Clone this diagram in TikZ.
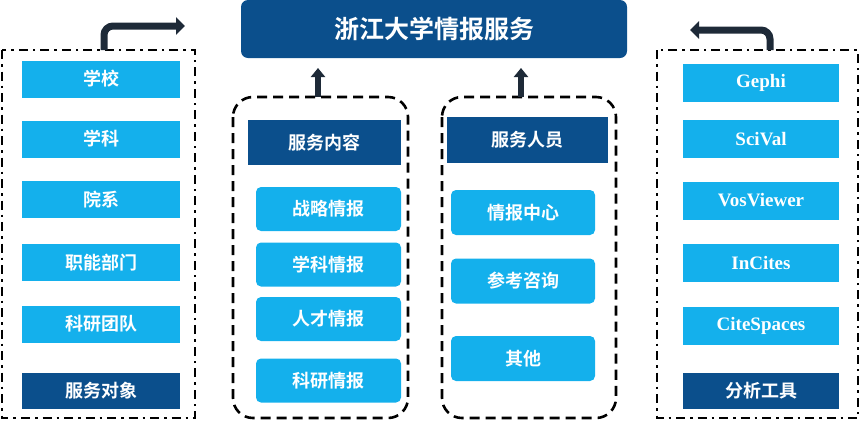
\documentclass[tikz,border=0pt]{standalone}
\usepackage{fontspec}
\setmainfont{Liberation Serif}
\newfontfamily\cjk{Noto Sans CJK SC}[BoldFont={Noto Sans CJK SC Bold}]
\usetikzlibrary{arrows.meta}
\definecolor{dk}{HTML}{0B4F8C}
\definecolor{lt}{HTML}{14B0EC}
\definecolor{ar}{HTML}{1E2A38}
\begin{document}
\begin{tikzpicture}[x=1pt,y=-1pt,
 box/.style={fill=lt,text=white,font=\cjk\bfseries\fontsize{18}{20}\selectfont,inner sep=0},
 hd/.style={fill=dk,text=white,font=\cjk\bfseries\fontsize{18}{20}\selectfont,inner sep=0},
 en/.style={fill=lt,text=white,font=\bfseries\fontsize{19}{21}\selectfont,inner sep=0},
 fr/.style={line width=2.6pt,dash pattern=on 9pt off 5pt on 2.5pt off 5pt},
 dfr/.style={line width=2.6pt,dash pattern=on 10pt off 6pt,rounded corners=20pt},
 arr/.style={line width=7pt,ar,-{Triangle[length=9pt,width=17pt]}}]
\useasboundingbox (0,0) rectangle (861,424);
\node[fill=dk,rounded corners=7pt,text=white,font=\cjk\bfseries\fontsize{25}{28}\selectfont,minimum width=386pt,minimum height=58pt] (t) at (434,29) {浙江大学情报服务};
% left
\draw[fr] (2,50) rectangle (195,418);
\foreach \n/\y/\s in {a1/79/学校,a2/139/学科,a3/199.5/院系,a4/262.5/职能部门,a5/324/科研团队}
  \node[box,minimum width=158pt,minimum height=37pt] (\n) at (101,\y) {\s};
\node[hd,minimum width=158pt,minimum height=36pt] (a6) at (101,391) {服务对象};
\coordinate (la) at (104,50);
\coordinate (lb) at (185,26);
\draw[arr,rounded corners=9pt] (la) -- (104,26) -- (lb);
% middle left
\draw[dfr] (233,97) rectangle (408,418);
\node[hd,minimum width=153pt,minimum height=45pt] (b0) at (324.5,142.5) {服务内容};
\foreach \n/\y/\s in {b1/209/战略情报,b2/264.5/学科情报,b3/319/人才情报,b4/380.5/科研情报}
  \node[box,rounded corners=5pt,minimum width=145pt,minimum height=44pt] (\n) at (328.5,\y) {\s};
\coordinate (ba) at (318,97);
\coordinate (bb) at (318,68);
\draw[arr,line width=6pt,-{Triangle[length=9pt,width=14pt]}] (ba) -- (bb);
% middle right
\draw[dfr] (442,97) rectangle (616,418);
\node[hd,minimum width=161pt,minimum height=46pt] (c0) at (527.5,140) {服务人员};
\foreach \n/\y/\s in {c1/212.5/情报中心,c2/281/参考咨询,c3/358.5/其他}
  \node[box,rounded corners=5pt,minimum width=144pt,minimum height=45pt] (\n) at (523,\y) {\s};
\coordinate (ca) at (521,97);
\coordinate (cb) at (521,68);
\draw[arr,line width=6pt,-{Triangle[length=9pt,width=14pt]}] (ca) -- (cb);
% right
\draw[fr] (657,50) rectangle (858,418);
\foreach \n/\y/\s in {d1/82.5/Gephi,d2/139/SciVal,d3/200.5/VosViewer,d4/262.5/InCites,d5/325.5/CiteSpaces}
  \node[en,minimum width=156pt,minimum height=38pt] (\n) at (761,\y) {\s};
\node[hd,minimum width=156pt,minimum height=36pt] (d6) at (761,391) {分析工具};
\coordinate (ra) at (770,50);
\coordinate (rb) at (690,30);
\draw[arr,rounded corners=9pt] (ra) -- (770,30) -- (rb);
\end{tikzpicture}
\end{document}
